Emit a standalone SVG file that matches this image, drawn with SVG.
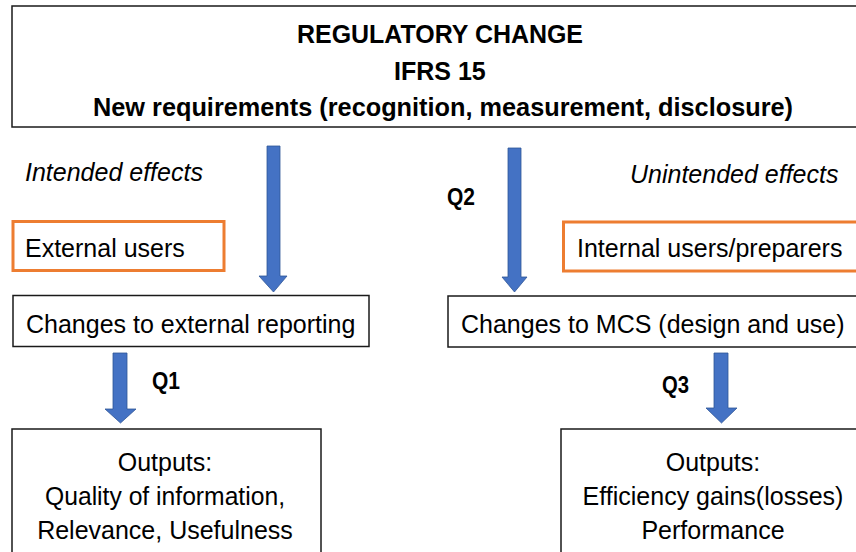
<svg xmlns="http://www.w3.org/2000/svg" width="856" height="552" viewBox="0 0 856 552">
  <style>
    .box { fill: #ffffff; stroke: #1a1a1a; stroke-width: 1.5; }
    .user { fill: #ffffff; stroke: #ED7D31; stroke-width: 3; }
    .arrow { fill: #4472C4; stroke: #2F5597; stroke-width: 0.8; }
    text { font-family: "Liberation Sans", Arial, sans-serif; fill: #000000; }
    .title { font-size: 25px; font-weight: bold; }
    .body { font-size: 25px; }
    .ital { font-size: 25px; font-style: italic; }
    .q { font-size: 24px; font-weight: bold; }
    .mid { text-anchor: middle; }
  </style>

  <rect width="856" height="552" fill="#ffffff"/>

  <!-- header block -->
  <g id="regulatory-change">
    <rect class="box" x="12" y="6" width="850" height="121"/>
    <text class="title" x="297" y="43" textLength="286" lengthAdjust="spacingAndGlyphs">REGULATORY CHANGE</text>
    <text class="title" x="394" y="80">IFRS 15</text>
    <text class="title" x="93" y="116" textLength="700" lengthAdjust="spacingAndGlyphs">New requirements (recognition, measurement, disclosure)</text>
  </g>

  <!-- side headings -->
  <g id="intended-effects">
    <text class="ital" x="25" y="181">Intended effects</text>
  </g>
  <g id="unintended-effects">
    <text class="ital" x="630" y="183">Unintended effects</text>
  </g>

  <!-- user groups -->
  <g id="external-users">
    <rect class="user" x="13" y="221.5" width="211" height="49"/>
    <text class="body" x="25" y="257">External users</text>
  </g>
  <g id="internal-users">
    <rect class="user" x="563.5" y="222" width="300" height="49"/>
    <text class="body" x="577" y="257">Internal users/preparers</text>
  </g>

  <!-- changes -->
  <g id="external-reporting">
    <rect class="box" x="13" y="295.5" width="356" height="51"/>
    <text class="body" x="26" y="333">Changes to external reporting</text>
  </g>
  <g id="mcs-changes">
    <rect class="box" x="448" y="296" width="414" height="51"/>
    <text class="body" x="461" y="333">Changes to MCS (design and use)</text>
  </g>

  <!-- outputs -->
  <g id="outputs-external">
    <rect class="box" x="12" y="429" width="309" height="130"/>
    <text class="body mid" x="165" y="471">Outputs:</text>
    <text class="body mid" x="165" y="505" textLength="240" lengthAdjust="spacingAndGlyphs">Quality of information,</text>
    <text class="body mid" x="165" y="539">Relevance, Usefulness</text>
  </g>
  <g id="outputs-internal">
    <rect class="box" x="561" y="429" width="302" height="130"/>
    <text class="body mid" x="713" y="471">Outputs:</text>
    <text class="body mid" x="713" y="505">Efficiency gains(losses)</text>
    <text class="body mid" x="713" y="539">Performance</text>
  </g>

  <!-- block arrows -->
  <g id="connectors">
    <polygon class="arrow" points="267,146 280,146 280,276 287,276 273.5,292 259,276 267,276"/>
    <polygon class="arrow" points="508,148 521,148 521,277 527,277 514.5,292 502,277 508,277"/>
    <polygon class="arrow" points="113,353 127,353 127,409 136,409 120.5,423 105,409 113,409"/>
    <polygon class="arrow" points="714,353 728,353 728,408 737,408 721.5,423 706,408 714,408"/>
    <text class="q" x="152" y="389" textLength="28" lengthAdjust="spacingAndGlyphs">Q1</text>
    <text class="q" x="447" y="205" textLength="28" lengthAdjust="spacingAndGlyphs">Q2</text>
    <text class="q" x="662" y="393" textLength="27" lengthAdjust="spacingAndGlyphs">Q3</text>
  </g>
</svg>
